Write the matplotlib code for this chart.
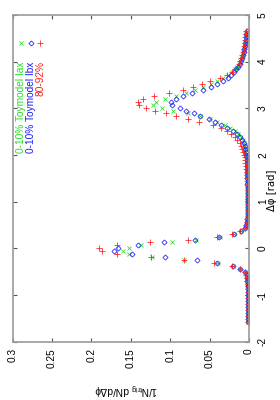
import matplotlib
matplotlib.use("Agg")
import matplotlib.pyplot as plt

plt.rcParams['font.family'] = ['Liberation Sans', 'DejaVu Sans']
plt.rcParams['axes.unicode_minus'] = False
plt.rcParams['mathtext.fontset'] = 'custom'
plt.rcParams['mathtext.rm'] = 'Liberation Sans'
plt.rcParams['mathtext.it'] = 'Liberation Sans'

# Delta-phi bin centres [rad]
dphi = [-1.571, -1.508, -1.445, -1.382, -1.319, -1.257, -1.194, -1.131, -1.068, -1.005,
        -0.942, -0.880, -0.817, -0.754, -0.691, -0.628, -0.565, -0.503, -0.440, -0.377,
        -0.314, -0.251, -0.188, -0.126, -0.063, 0.000, 0.063, 0.126, 0.188, 0.251,
        0.314, 0.377, 0.440, 0.503, 0.565, 0.628, 0.691, 0.754, 0.817, 0.880,
        0.942, 1.005, 1.068, 1.131, 1.194, 1.257, 1.319, 1.382, 1.445, 1.508,
        1.571, 1.634, 1.696, 1.759, 1.822, 1.885, 1.948, 2.011, 2.073, 2.136,
        2.199, 2.262, 2.325, 2.388, 2.450, 2.513, 2.576, 2.639, 2.702, 2.765,
        2.827, 2.890, 2.953, 3.016, 3.079, 3.142, 3.204, 3.267, 3.330, 3.393,
        3.456, 3.519, 3.581, 3.644, 3.707, 3.770, 3.833, 3.896, 3.958, 4.021,
        4.084, 4.147, 4.210, 4.273, 4.335, 4.398, 4.461, 4.524, 4.587, 4.650]

# 0-10% Toymodel Iax (green)
toy_iax = [0.0015, 0.0014, 0.0016, 0.0015, 0.0016, 0.0015, 0.0017, 0.0016, 0.0017, 0.0018,
           0.0018, 0.0019, 0.0020, 0.0021, 0.0023, 0.0026, 0.0032, 0.0050, 0.012, 0.020,
           0.039, 0.082, 0.123, 0.152, 0.160, 0.152, 0.137, 0.098, 0.067, 0.037,
           0.019, 0.010, 0.0050, 0.0033, 0.0026, 0.0023, 0.0022, 0.0021, 0.0022, 0.0023,
           0.0024, 0.0023, 0.0025, 0.0024, 0.0026, 0.0025, 0.0024, 0.0025, 0.0024, 0.0025,
           0.0024, 0.0025, 0.0025, 0.0026, 0.0027, 0.0028, 0.0030, 0.0035, 0.0040, 0.0047,
           0.0055, 0.0065, 0.0080, 0.010, 0.014, 0.018, 0.024, 0.031, 0.040, 0.050,
           0.062, 0.078, 0.097, 0.110, 0.122, 0.118, 0.106, 0.092, 0.080, 0.068,
           0.058, 0.048, 0.040, 0.033, 0.027, 0.022, 0.018, 0.015, 0.013, 0.011,
           0.0090, 0.0080, 0.0070, 0.0060, 0.0053, 0.0047, 0.0042, 0.0037, 0.0033, 0.0030]

# 0-10% Toymodel Ibx (blue)
toy_ibx = [0.0013, 0.0012, 0.0014, 0.0013, 0.0012, 0.0014, 0.0013, 0.0015, 0.0014, 0.0015,
           0.0016, 0.0017, 0.0018, 0.0019, 0.0021, 0.0024, 0.0030, 0.0050, 0.012, 0.020,
           0.041, 0.066, 0.106, 0.148, 0.171, 0.166, 0.141, 0.108, 0.069, 0.038,
           0.019, 0.010, 0.0050, 0.0032, 0.0025, 0.0021, 0.0019, 0.0018, 0.0017, 0.0018,
           0.0017, 0.0018, 0.0017, 0.0018, 0.0019, 0.0018, 0.0019, 0.0020, 0.0019, 0.0020,
           0.0021, 0.0022, 0.0022, 0.0023, 0.0025, 0.0027, 0.0030, 0.0033, 0.0038, 0.0045,
           0.0057, 0.0068, 0.0085, 0.011, 0.015, 0.020, 0.028, 0.035, 0.043, 0.051,
           0.062, 0.070, 0.080, 0.088, 0.098, 0.099, 0.092, 0.084, 0.072, 0.058,
           0.048, 0.040, 0.033, 0.027, 0.023, 0.019, 0.016, 0.014, 0.012, 0.010,
           0.0090, 0.0080, 0.0068, 0.0060, 0.0053, 0.0047, 0.0042, 0.0036, 0.0032, 0.0028]

# 80-92% (red)
c80_92 = [0.0012, 0.0010, 0.0013, 0.0011, 0.0012, 0.0010, 0.0013, 0.0012, 0.0011, 0.0013,
          0.0014, 0.0015, 0.0016, 0.0018, 0.0022, 0.0028, 0.0035, 0.0055, 0.012, 0.021,
          0.044, 0.083, 0.124, 0.167, 0.187, 0.190, 0.167, 0.126, 0.077, 0.040,
          0.021, 0.011, 0.0055, 0.0035, 0.0025, 0.0020, 0.0018, 0.0016, 0.0015, 0.0015,
          0.0014, 0.0015, 0.0016, 0.0015, 0.0016, 0.0017, 0.0018, 0.0019, 0.0020, 0.0022,
          0.0025, 0.0030, 0.0036, 0.0040, 0.0045, 0.0050, 0.0056, 0.0065, 0.0072, 0.0088,
          0.010, 0.012, 0.015, 0.018, 0.023, 0.028, 0.036, 0.046, 0.063, 0.078,
          0.092, 0.105, 0.119, 0.131, 0.140, 0.141, 0.134, 0.121, 0.102, 0.084,
          0.071, 0.059, 0.049, 0.037, 0.028, 0.022, 0.018, 0.015, 0.013, 0.011,
          0.010, 0.0090, 0.0080, 0.0068, 0.0060, 0.0052, 0.0047, 0.0045, 0.0040, 0.0036]

series_labels = ['0-10% Toymodel Iax', '0-10% Toymodel Ibx', '80-92%']
value_ticks = [0, 0.05, 0.1, 0.15, 0.2, 0.25, 0.3]
value_ticklabels = ['0', '0.05', '0.1', '0.15', '0.2', '0.25', '0.3']
dphi_ticks = [-2, -1, 0, 1, 2, 3, 4, 5]
dphi_ticklabels = ['-2', '-1', '0', '1', '2', '3', '4', '5']

green = '#22dd22'
blue = '#1a1aff'
red = '#ff1a1a'
fs = 7.3

mk_green = dict(marker='x', ms=3.0, mew=0.55, color=green)
mk_blue = dict(marker='D', ms=2.6, mew=0.55, mfc='none', mec=blue)
mk_red = dict(marker='+', ms=3.8, mew=0.55, color=red)

fig = plt.figure(figsize=(2.8, 4.0), dpi=100)
W, H = 280.0, 400.0
x0, x1, y0, y1 = 12.5, 249.0, 15.0, 341.7
ax = fig.add_axes([x0 / W, 1 - y1 / H, (x1 - x0) / W, (y1 - y0) / H])

ax.plot(toy_iax, dphi, linestyle='none', **mk_green)
ax.plot(toy_ibx, dphi, linestyle='none', **mk_blue)
ax.plot(c80_92, dphi, linestyle='none', **mk_red)

ax.set_xlim(0.3, 0)
ax.set_ylim(-2, 5)
ax.set_xticks(value_ticks)
ax.set_xticklabels(value_ticklabels)
ax.set_yticks(dphi_ticks)
ax.set_yticklabels(dphi_ticklabels)

for s in ax.spines.values():
    s.set_color('#9a9a9a')
    s.set_linewidth(1.2)

ax.tick_params(axis='x', direction='in', top=True, bottom=True, length=3,
               width=0.8, color='#555555', labelsize=fs, pad=4.5, labelrotation=90)
ax.tick_params(axis='y', direction='in', left=True, right=True, length=3,
               width=0.8, color='#555555', labelsize=fs, pad=6.5, labelrotation=90,
               labelleft=False, labelright=True)
for lbl in ax.get_xticklabels():
    lbl.set_va('top')
    lbl.set_ha('center')
for lbl in ax.get_yticklabels():
    lbl.set_va('center')
    lbl.set_ha('left')

fig.text(126 / W, 1 - 388 / H, r'1/N$_{\rm trig}$ dN/d$\Delta\phi$', rotation=180,
         ha='center', va='center', fontsize=fs)
fig.text(272 / W, 1 - 190 / H, 'Δφ [rad]', rotation=90,
         ha='center', va='center', fontsize=fs, family=['DejaVu Sans'])

# legend (rotated with the chart)
def ax_xy(px, py):
    return (px - x0) / (x1 - x0), (y1 - py) / (y1 - y0)

leg = [(20.7, green, mk_green), (30.7, blue, mk_blue), (40.3, red, mk_red)]
for (px, col, kw), lab in zip(leg, series_labels):
    mx, my = ax_xy(px, 42.7)
    ax.plot([mx], [my], linestyle='none', transform=ax.transAxes,
            clip_on=False, **kw)
    tx, ty = ax_xy(px, 61.5)
    ax.text(tx, ty, lab, rotation=90, ha='center', va='top', color=col,
            fontsize=fs, transform=ax.transAxes)

fig.savefig('out.png', dpi=100)
